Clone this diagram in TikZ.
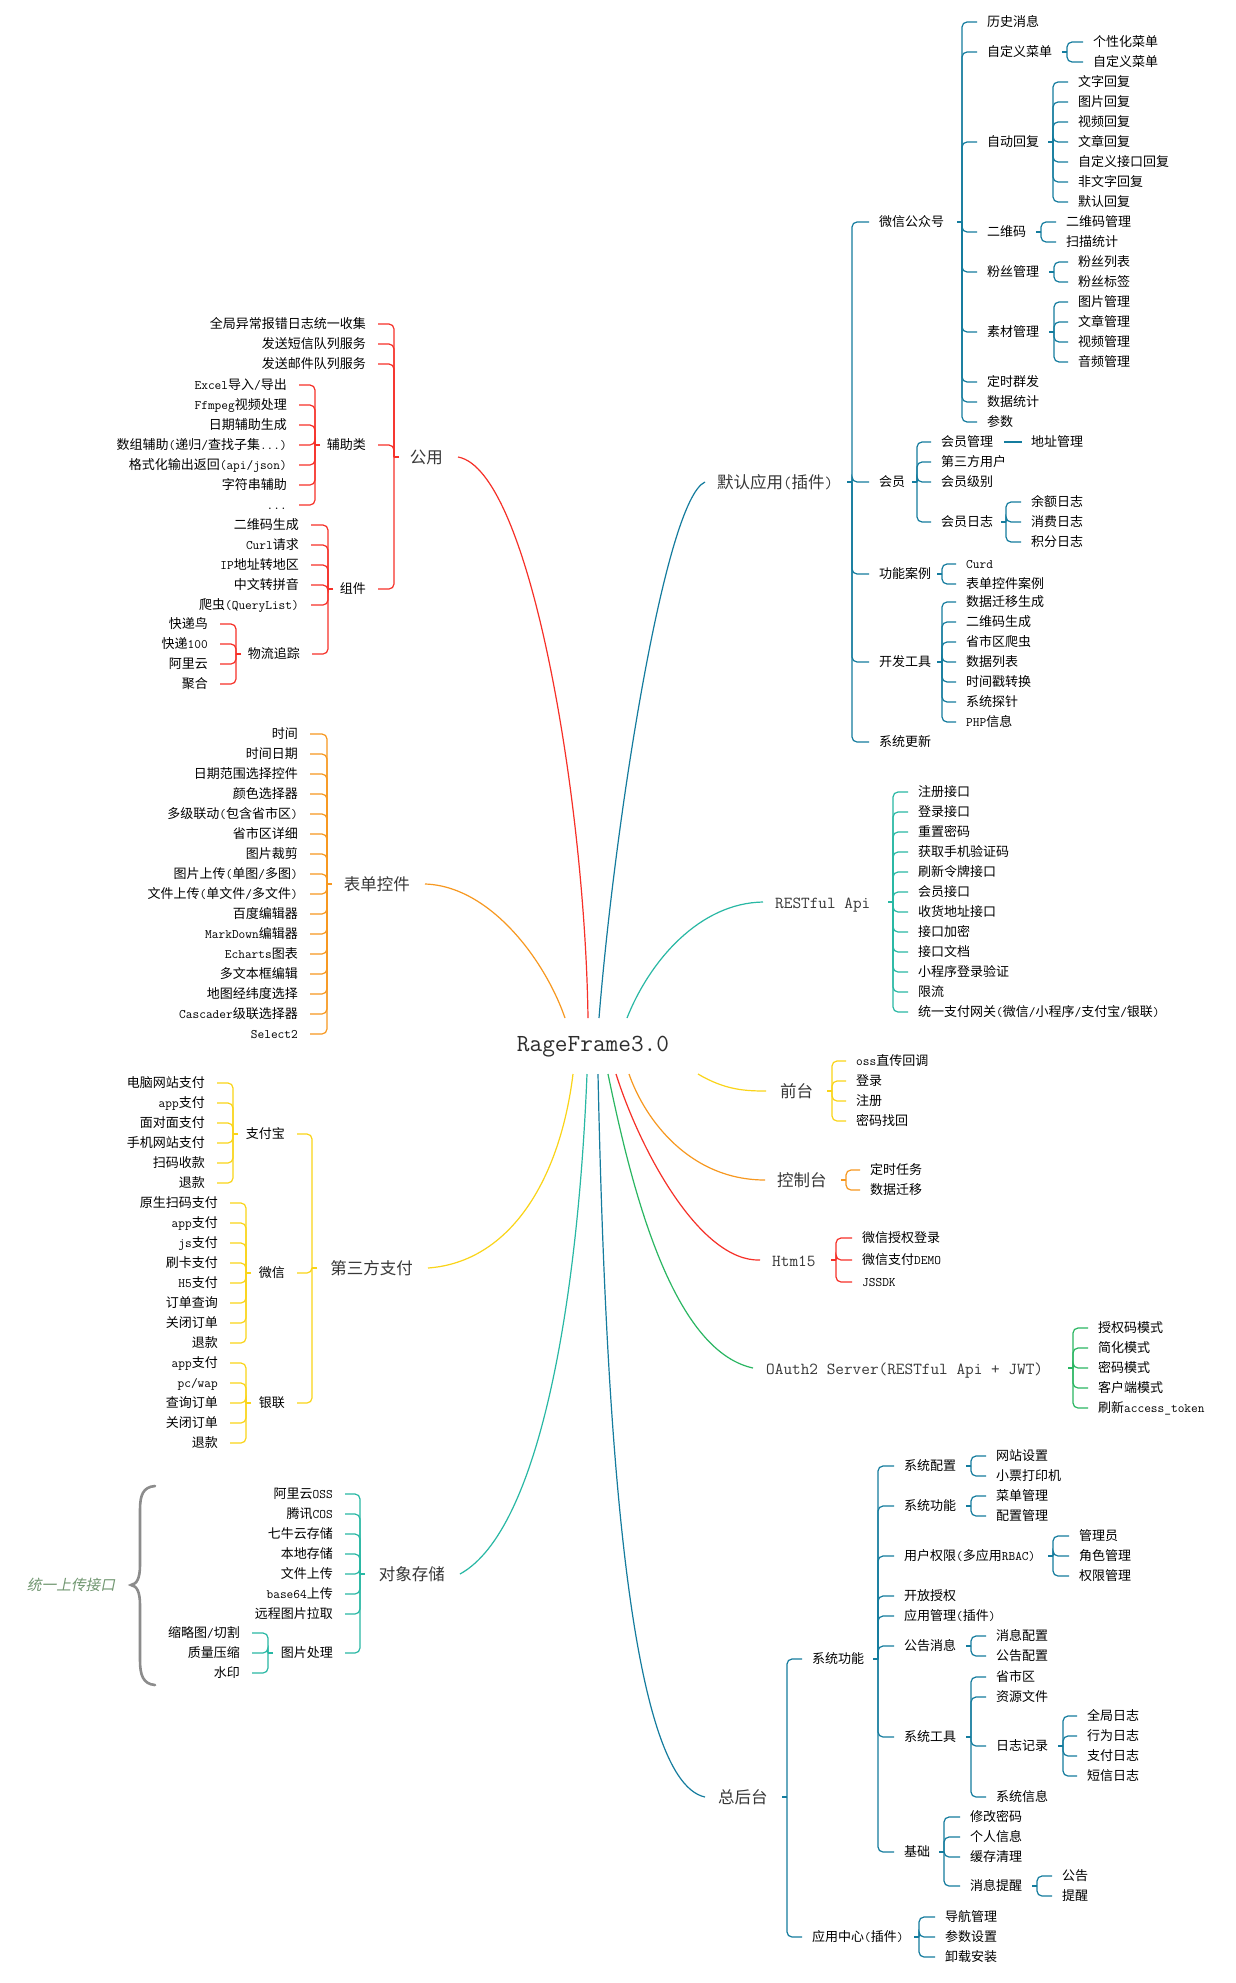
\documentclass[tikz,border=0pt]{standalone}
\usepackage{fontspec}
\setmainfont{Noto Sans CJK SC}
\newfontfamily\slantcjk{Noto Sans CJK SC}[FakeSlant=0.2]
\definecolor{cblue}{RGB}{20,124,158}
\definecolor{cteal}{RGB}{40,184,164}
\definecolor{cred}{RGB}{246,48,40}
\definecolor{corange}{RGB}{247,152,32}
\definecolor{cyellow}{RGB}{250,212,24}
\definecolor{cgreen}{RGB}{42,182,98}
\definecolor{cbrace}{RGB}{140,140,140}
\definecolor{cnote}{RGB}{112,150,112}
\newcommand\asc[1]{{\ttfamily #1}}
\tikzset{
  lf/.style={inner sep=0pt, font=\fontsize{13}{14.5}\selectfont, text height=11.4pt, text depth=2.1pt},
  lvone/.style={inner sep=0pt, font=\fontsize{16.5}{18}\selectfont, text=black!78, text height=14.5pt, text depth=2.5pt},
  lvmono/.style={lvone, font=\ttfamily\fontsize{16.8}{18}\selectfont},
  rn/.style={anchor=west},
  ln/.style={anchor=east},
  lk/.style={line width=1.2pt},
}
\newcommand\nR[4]{\node[lf,rn] (#1) at (#2,#3) {#4};}
\newcommand\nL[4]{\node[lf,ln] (#1) at (#2,#3) {#4};}
\newcommand\rtree[4]{%
  \coordinate (bxa) at (#3,0);
  \coordinate (bxb) at ({#3-5},0);
  \draw[lk,#1] (#2.east -| bxb) -- (#2.east -| bxa);
  \foreach \ch in {#4}{\draw[lk,#1,rounded corners=5pt] (#2.east -| bxa) |- ([xshift=-10pt]\ch.west);}%
}
\newcommand\ltree[4]{%
  \coordinate (bxa) at (#3,0);
  \coordinate (bxb) at ({#3+5},0);
  \draw[lk,#1] (#2.west -| bxb) -- (#2.west -| bxa);
  \foreach \ch in {#4}{\draw[lk,#1,rounded corners=5pt] (#2.west -| bxa) |- ([xshift=12pt]\ch.east);}%
}
\begin{document}
\begin{tikzpicture}[x=1pt,y=-1pt]
\fill[white] (0,0) rectangle (1235,1983);
\useasboundingbox (0,0) rectangle (1235,1983);

% ---------- root ----------
\node[inner sep=0pt, font=\ttfamily\fontsize{24.6}{26}\selectfont, text=black!82] (root) at (593,1047) {RageFrame3.0};

% ---------- level one ----------
\node[lvone,rn] (mr) at (717,482) {默认应用\asc{(}插件\asc{)}};
\node[lvmono,rn] (rest) at (775,902) {RESTful Api};
\node[lvone,rn] (qt) at (780,1091) {前台};
\node[lvone,rn] (kzt) at (777,1180) {控制台};
\node[lvmono,rn] (hf) at (772,1260) {Htm15};
\node[lvmono,rn] (oa) at (766,1368) {OAuth2 Server(RESTful Api + JWT)};
\node[lvone,rn] (zht) at (718,1797) {总后台};
\node[lvone,ln] (gy) at (443,457) {公用};
\node[lvone,ln] (bd) at (410,884) {表单控件};
\node[lvone,ln] (dsf) at (413,1268) {第三方支付};
\node[lvone,ln] (dx) at (445,1574) {对象存储};

% ---------- main curves ----------
\draw[lk,cblue] ([shift={(6,-29)}]root.center) .. controls (615,820) and (665,500) .. ([xshift=-12pt]mr.west);
\draw[lk,cteal] ([shift={(34,-29)}]root.center) .. controls (650,960) and (700,903) .. ([xshift=-12pt]rest.west);
\draw[lk,cred] ([shift={(-5,-29)}]root.center) .. controls (585,800) and (530,470) .. ([xshift=15pt]gy.east);
\draw[lk,corange] ([shift={(-28,-29)}]root.center) .. controls (545,960) and (490,886) .. ([xshift=15pt]bd.east);
\draw[lk,cyellow] ([shift={(105,27)}]root.center) .. controls (725,1090) and (745,1091) .. ([xshift=-14pt]qt.west);
\draw[lk,corange] ([shift={(36,27)}]root.center) .. controls (645,1120) and (690,1180) .. ([xshift=-12pt]kzt.west);
\draw[lk,cred] ([shift={(23,27)}]root.center) .. controls (640,1150) and (700,1262) .. ([xshift=-12pt]hf.west);
\draw[lk,cgreen] ([shift={(15,27)}]root.center) .. controls (630,1180) and (670,1350) .. ([xshift=-13pt]oa.west);
\draw[lk,cblue] ([shift={(5,27)}]root.center) .. controls (605,1400) and (625,1780) .. ([xshift=-13pt]zht.west);
\draw[lk,cyellow] ([shift={(-20,27)}]root.center) .. controls (560,1180) and (510,1262) .. ([xshift=15pt]dsf.east);
\draw[lk,cteal] ([shift={(-6,27)}]root.center) .. controls (578,1300) and (540,1530) .. ([xshift=15pt]dx.east);

% ---------- 默认应用 ----------
\nR{wx}{879}{222}{微信公众号}
\nR{hy}{879}{482}{会员}
\nR{gn}{879}{574}{功能案例}
\nR{kf}{879}{662}{开发工具}
\nR{gx}{879}{742}{系统更新}
\rtree{cblue}{mr}{852}{wx,hy,gn,kf,gx}

\nR{wa}{987}{22}{历史消息}
\nR{wb}{987}{52}{自定义菜单}
\nR{wc}{987}{142}{自动回复}
\nR{wd}{987}{232}{二维码}
\nR{we}{987}{272}{粉丝管理}
\nR{wf}{987}{332}{素材管理}
\nR{wg}{987}{382}{定时群发}
\nR{wh}{987}{402}{数据统计}
\nR{wi}{987}{422}{参数}
\rtree{cblue}{wx}{962}{wa,wb,wc,wd,we,wf,wg,wh,wi}

\nR{wba}{1093}{42}{个性化菜单}
\nR{wbb}{1093}{62}{自定义菜单}
\rtree{cblue}{wb}{1067}{wba,wbb}

\nR{wca}{1078}{82}{文字回复}
\nR{wcb}{1078}{102}{图片回复}
\nR{wcc}{1078}{122}{视频回复}
\nR{wcd}{1078}{142}{文章回复}
\nR{wce}{1078}{162}{自定义接口回复}
\nR{wcf}{1078}{182}{非文字回复}
\nR{wcg}{1078}{202}{默认回复}
\rtree{cblue}{wc}{1053}{wca,wcb,wcc,wcd,wce,wcf,wcg}

\nR{wda}{1066}{222}{二维码管理}
\nR{wdb}{1066}{242}{扫描统计}
\rtree{cblue}{wd}{1041}{wda,wdb}

\nR{wea}{1078}{262}{粉丝列表}
\nR{web}{1078}{282}{粉丝标签}
\rtree{cblue}{we}{1054}{wea,web}

\nR{wfa}{1078}{302}{图片管理}
\nR{wfb}{1078}{322}{文章管理}
\nR{wfc}{1078}{342}{视频管理}
\nR{wfd}{1078}{362}{音频管理}
\rtree{cblue}{wf}{1054}{wfa,wfb,wfc,wfd}

\nR{ha}{941}{442}{会员管理}
\nR{hb}{941}{462}{第三方用户}
\nR{hc}{941}{482}{会员级别}
\nR{hd}{941}{522}{会员日志}
\rtree{cblue}{hy}{917}{ha,hb,hc,hd}
\nR{dz}{1031}{442}{地址管理}
\draw[lk,cblue] ([xshift=11pt]ha.east) -- ([xshift=-9pt]dz.west);

\nR{hda}{1031}{502}{余额日志}
\nR{hdb}{1031}{522}{消费日志}
\nR{hdc}{1031}{542}{积分日志}
\rtree{cblue}{hd}{1006}{hda,hdb,hdc}

\nR{gna}{966}{564}{\asc{Curd}}
\nR{gnb}{966}{584}{表单控件案例}
\rtree{cblue}{gn}{942}{gna,gnb}

\nR{kfa}{966}{602}{数据迁移生成}
\nR{kfb}{966}{622}{二维码生成}
\nR{kfc}{966}{642}{省市区爬虫}
\nR{kfd}{966}{662}{数据列表}
\nR{kfe}{966}{682}{时间戳转换}
\nR{kff}{966}{702}{系统探针}
\nR{kfg}{966}{722}{\asc{PHP}信息}
\rtree{cblue}{kf}{942}{kfa,kfb,kfc,kfd,kfe,kff,kfg}

% ---------- RESTful Api ----------
\nR{ra}{918}{792}{注册接口}
\nR{rb}{918}{812}{登录接口}
\nR{rc}{918}{832}{重置密码}
\nR{rd}{918}{852}{获取手机验证码}
\nR{re}{918}{872}{刷新令牌接口}
\nR{rf}{918}{892}{会员接口}
\nR{rg}{918}{912}{收货地址接口}
\nR{rh}{918}{932}{接口加密}
\nR{ri}{918}{952}{接口文档}
\nR{rj}{918}{972}{小程序登录验证}
\nR{rk}{918}{992}{限流}
\nR{rl}{918}{1012}{统一支付网关\asc{(}微信\asc{/}小程序\asc{/}支付宝\asc{/}银联\asc{)}}
\rtree{cteal}{rest}{893}{ra,rb,rc,rd,re,rf,rg,rh,ri,rj,rk,rl}

% ---------- 前台 / 控制台 / Htm15 / OAuth2 ----------
\nR{qa}{856}{1061}{\asc{oss}直传回调}
\nR{qb}{856}{1081}{登录}
\nR{qc}{856}{1101}{注册}
\nR{qd}{856}{1121}{密码找回}
\rtree{cyellow}{qt}{832}{qa,qb,qc,qd}

\nR{ka}{870}{1170}{定时任务}
\nR{kb}{870}{1190}{数据迁移}
\rtree{corange}{kzt}{846}{ka,kb}

\nR{ha1}{862}{1238}{微信授权登录}
\nR{ha2}{862}{1260}{微信支付\asc{DEMO}}
\nR{ha3}{862}{1282}{\asc{JSSDK}}
\rtree{cred}{hf}{836}{ha1,ha2,ha3}

\nR{oa1}{1098}{1328}{授权码模式}
\nR{oa2}{1098}{1348}{简化模式}
\nR{oa3}{1098}{1368}{密码模式}
\nR{oa4}{1098}{1388}{客户端模式}
\nR{oa5}{1098}{1408}{刷新\asc{access\_token}}
\rtree{cgreen}{oa}{1073}{oa1,oa2,oa3,oa4,oa5}

% ---------- 总后台 ----------
\nR{sg}{812}{1659}{系统功能}
\nR{yy}{812}{1937}{应用中心\asc{(}插件\asc{)}}
\rtree{cblue}{zht}{787}{sg,yy}

\nR{sa}{904}{1466}{系统配置}
\nR{sb}{904}{1506}{系统功能}
\nR{sc}{904}{1556}{用户权限\asc{(}多应用\asc{RBAC)}}
\nR{sd}{904}{1596}{开放授权}
\nR{se}{904}{1616}{应用管理\asc{(}插件\asc{)}}
\nR{sf}{904}{1646}{公告消息}
\nR{sh}{904}{1737}{系统工具}
\nR{si}{904}{1852}{基础}
\rtree{cblue}{sg}{878}{sa,sb,sc,sd,se,sf,sh,si}

\nR{saa}{996}{1456}{网站设置}
\nR{sab}{996}{1476}{小票打印机}
\rtree{cblue}{sa}{971}{saa,sab}
\nR{sba}{996}{1496}{菜单管理}
\nR{sbb}{996}{1516}{配置管理}
\rtree{cblue}{sb}{971}{sba,sbb}
\nR{sca}{1079}{1536}{管理员}
\nR{scb}{1079}{1556}{角色管理}
\nR{scc}{1079}{1576}{权限管理}
\rtree{cblue}{sc}{1053}{sca,scb,scc}
\nR{sfa}{996}{1636}{消息配置}
\nR{sfb}{996}{1656}{公告配置}
\rtree{cblue}{sf}{971}{sfa,sfb}

\nR{sha}{996}{1677}{省市区}
\nR{shb}{996}{1697}{资源文件}
\nR{rz}{996}{1746}{日志记录}
\nR{shd}{996}{1797}{系统信息}
\rtree{cblue}{sh}{971}{sha,shb,rz,shd}
\nR{rza}{1087}{1716}{全局日志}
\nR{rzb}{1087}{1736}{行为日志}
\nR{rzc}{1087}{1756}{支付日志}
\nR{rzd}{1087}{1776}{短信日志}
\rtree{cblue}{rz}{1063}{rza,rzb,rzc,rzd}

\nR{sia}{970}{1817}{修改密码}
\nR{sib}{970}{1837}{个人信息}
\nR{sic}{970}{1857}{缓存清理}
\nR{xx}{970}{1886}{消息提醒}
\rtree{cblue}{si}{944}{sia,sib,sic,xx}
\nR{xxa}{1062}{1876}{公告}
\nR{xxb}{1062}{1896}{提醒}
\rtree{cblue}{xx}{1037}{xxa,xxb}

\nR{yya}{945}{1917}{导航管理}
\nR{yyb}{945}{1937}{参数设置}
\nR{yyc}{945}{1957}{卸载安装}
\rtree{cblue}{yy}{919}{yya,yyb,yyc}

% ---------- 公用 ----------
\nL{g1}{366}{324}{全局异常报错日志统一收集}
\nL{g2}{366}{344}{发送短信队列服务}
\nL{g3}{366}{364}{发送邮件队列服务}
\nL{fz}{366}{445}{辅助类}
\nL{zj}{366}{589}{组件}
\ltree{cred}{gy}{394}{g1,g2,g3,fz,zj}

\nL{f1}{287}{385}{\asc{Excel}导入\asc{/}导出}
\nL{f2}{287}{405}{\asc{Ffmpeg}视频处理}
\nL{f3}{287}{425}{日期辅助生成}
\nL{f4}{287}{445}{数组辅助\asc{(}递归\asc{/}查找子集\asc{...)}}
\nL{f5}{287}{465}{格式化输出返回\asc{(api/json)}}
\nL{f6}{287}{485}{字符串辅助}
\nL{f7}{287}{505}{\asc{...}}
\ltree{cred}{fz}{315}{f1,f2,f3,f4,f5,f6,f7}

\nL{z1}{299}{525}{二维码生成}
\nL{z2}{299}{545}{\asc{Curl}请求}
\nL{z3}{299}{565}{\asc{IP}地址转地区}
\nL{z4}{299}{585}{中文转拼音}
\nL{z5}{299}{605}{爬虫\asc{(QueryList)}}
\nL{wl}{300}{654}{物流追踪}
\ltree{cred}{zj}{328}{z1,z2,z3,z4,z5,wl}

\nL{wl1}{208}{624}{快递鸟}
\nL{wl2}{208}{644}{快递\asc{100}}
\nL{wl3}{208}{664}{阿里云}
\nL{wl4}{208}{684}{聚合}
\ltree{cred}{wl}{236}{wl1,wl2,wl3,wl4}

% ---------- 表单控件 ----------
\nL{b1}{298}{734}{时间}
\nL{b2}{298}{754}{时间日期}
\nL{b3}{298}{774}{日期范围选择控件}
\nL{b4}{298}{794}{颜色选择器}
\nL{b5}{298}{814}{多级联动\asc{(}包含省市区\asc{)}}
\nL{b6}{298}{834}{省市区详细}
\nL{b7}{298}{854}{图片裁剪}
\nL{b8}{298}{874}{图片上传\asc{(}单图\asc{/}多图\asc{)}}
\nL{b9}{298}{894}{文件上传\asc{(}单文件\asc{/}多文件\asc{)}}
\nL{b10}{298}{914}{百度编辑器}
\nL{b11}{298}{934}{\asc{MarkDown}编辑器}
\nL{b12}{298}{954}{\asc{Echarts}图表}
\nL{b13}{298}{974}{多文本框编辑}
\nL{b14}{298}{994}{地图经纬度选择}
\nL{b15}{298}{1014}{\asc{Cascader}级联选择器}
\nL{b16}{298}{1034}{\asc{Select2}}
\ltree{corange}{bd}{327}{b1,b2,b3,b4,b5,b6,b7,b8,b9,b10,b11,b12,b13,b14,b15,b16}

% ---------- 第三方支付 ----------
\nL{zfb}{285}{1134}{支付宝}
\nL{wxp}{285}{1273}{微信}
\nL{yl}{285}{1403}{银联}
\ltree{cyellow}{dsf}{312}{zfb,wxp,yl}

\nL{za1}{205}{1083}{电脑网站支付}
\nL{za2}{205}{1103}{\asc{app}支付}
\nL{za3}{205}{1123}{面对面支付}
\nL{za4}{205}{1143}{手机网站支付}
\nL{za5}{205}{1163}{扫码收款}
\nL{za6}{205}{1183}{退款}
\ltree{cyellow}{zfb}{233}{za1,za2,za3,za4,za5,za6}

\nL{wp1}{218}{1203}{原生扫码支付}
\nL{wp2}{218}{1223}{\asc{app}支付}
\nL{wp3}{218}{1243}{\asc{js}支付}
\nL{wp4}{218}{1263}{刷卡支付}
\nL{wp5}{218}{1283}{\asc{H5}支付}
\nL{wp6}{218}{1303}{订单查询}
\nL{wp7}{218}{1323}{关闭订单}
\nL{wp8}{218}{1343}{退款}
\ltree{cyellow}{wxp}{246}{wp1,wp2,wp3,wp4,wp5,wp6,wp7,wp8}

\nL{yl1}{218}{1363}{\asc{app}支付}
\nL{yl2}{218}{1383}{\asc{pc/wap}}
\nL{yl3}{218}{1403}{查询订单}
\nL{yl4}{218}{1423}{关闭订单}
\nL{yl5}{218}{1443}{退款}
\ltree{cyellow}{yl}{246}{yl1,yl2,yl3,yl4,yl5}

% ---------- 对象存储 ----------
\nL{d1}{333}{1494}{阿里云\asc{OSS}}
\nL{d2}{333}{1514}{腾讯\asc{COS}}
\nL{d3}{333}{1534}{七牛云存储}
\nL{d4}{333}{1554}{本地存储}
\nL{d5}{333}{1574}{文件上传}
\nL{d6}{333}{1594}{\asc{base64}上传}
\nL{d7}{333}{1614}{远程图片拉取}
\nL{tp}{333}{1653}{图片处理}
\ltree{cteal}{dx}{360}{d1,d2,d3,d4,d5,d6,d7,tp}

\nL{tp1}{240}{1633}{缩略图\asc{/}切割}
\nL{tp2}{240}{1653}{质量压缩}
\nL{tp3}{240}{1673}{水印}
\ltree{cteal}{tp}{268}{tp1,tp2,tp3}

% ---------- brace + note ----------
\draw[cbrace, line width=2.6pt, line cap=round]
  (155,1486) .. controls (143,1487) and (140,1495) .. (140,1510) -- (140,1565)
  .. controls (140,1578) and (137,1584) .. (131,1585)
  .. controls (137,1586) and (140,1592) .. (140,1605) -- (140,1660)
  .. controls (140,1675) and (143,1684) .. (155,1685);
\node[inner sep=0pt, font=\slantcjk\fontsize{14.7}{16}\selectfont, text=cnote] (ul) at (71,1585) {统一上传接口};
\end{tikzpicture}
\end{document}
